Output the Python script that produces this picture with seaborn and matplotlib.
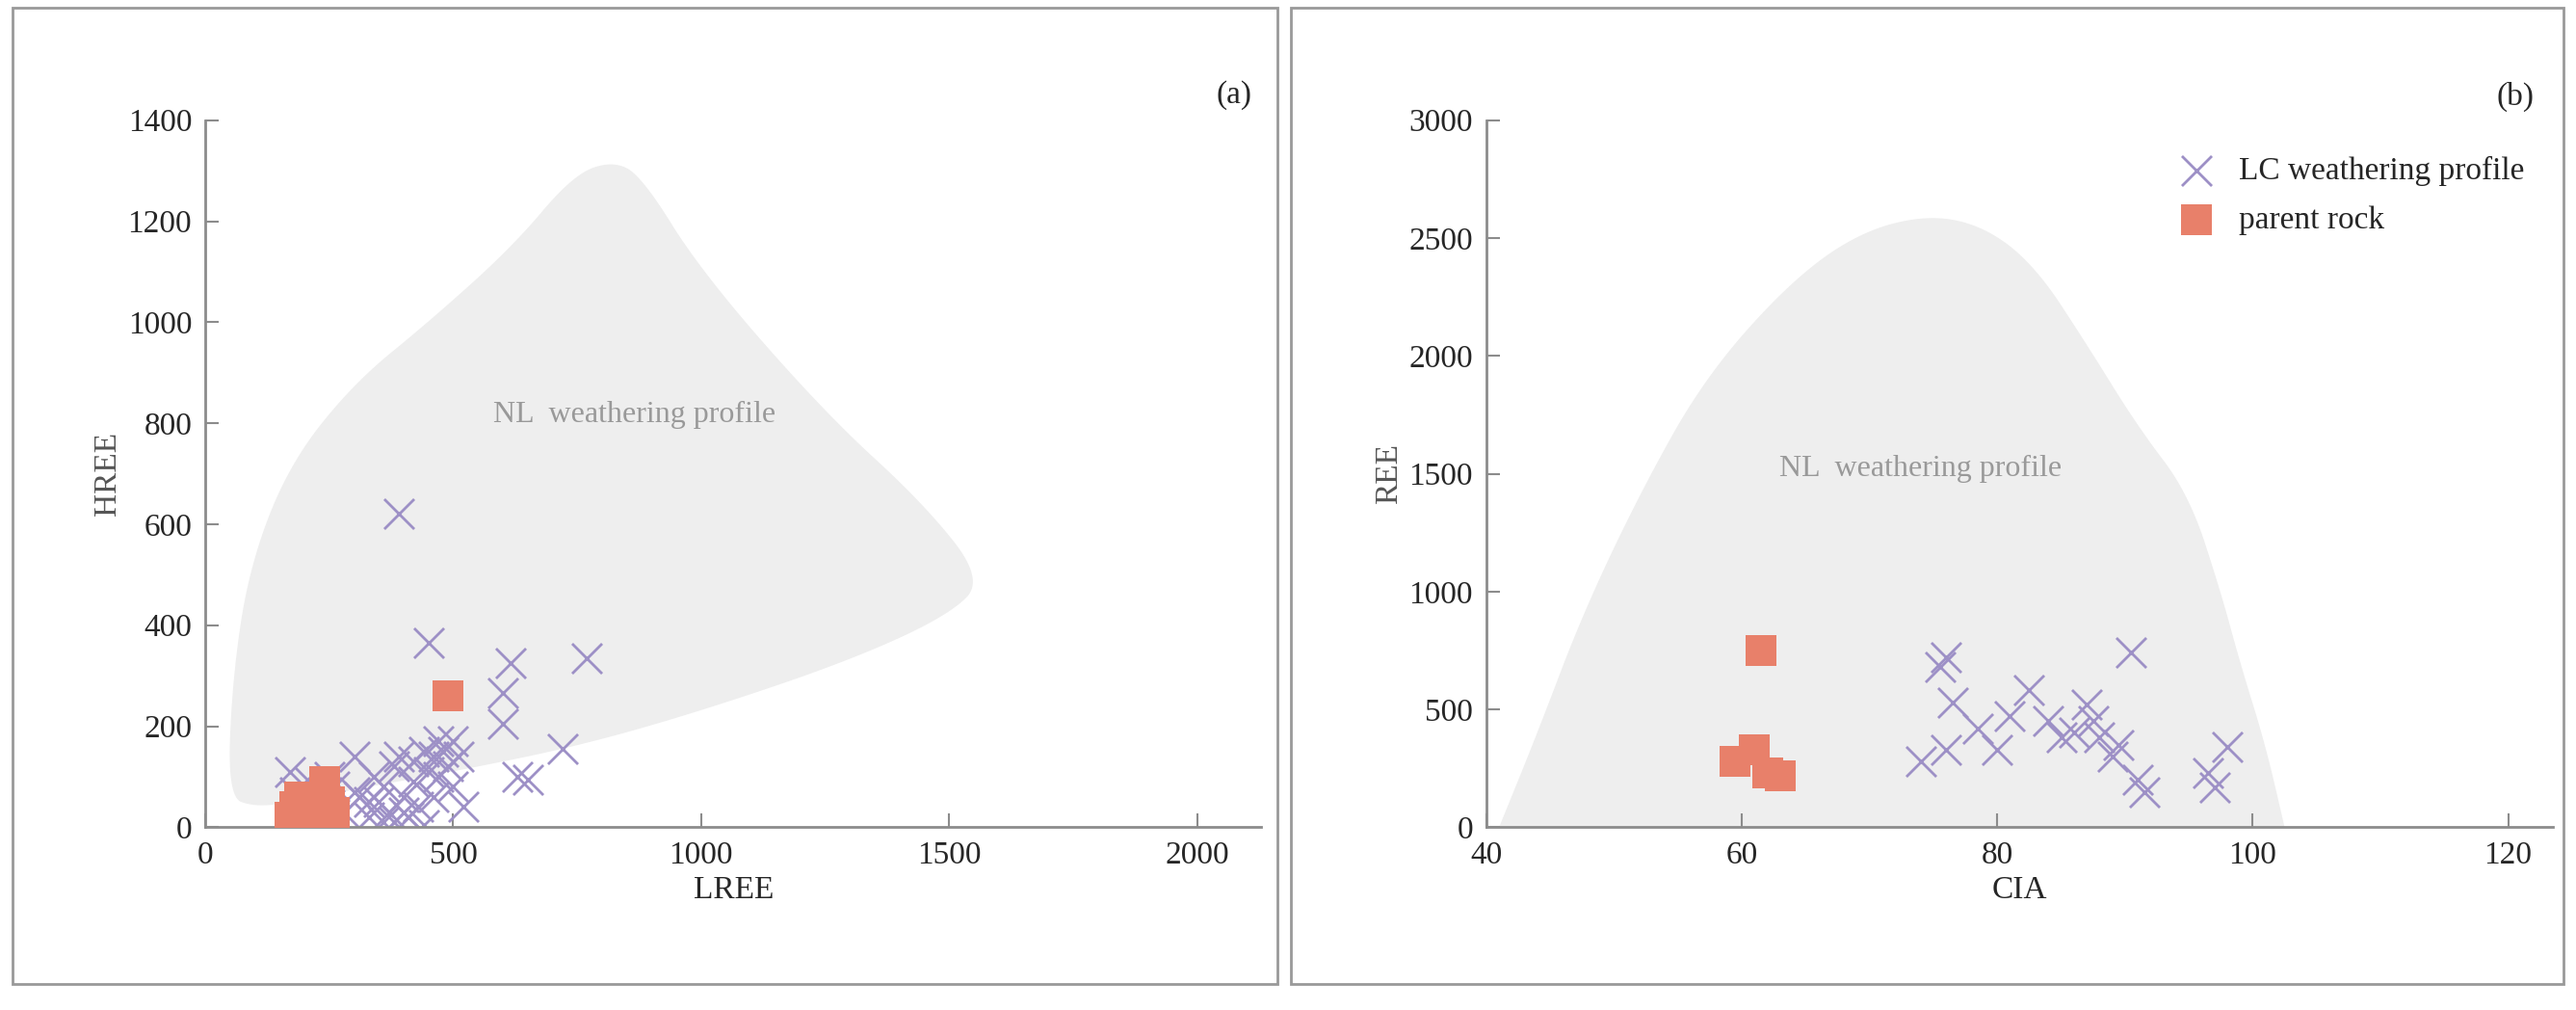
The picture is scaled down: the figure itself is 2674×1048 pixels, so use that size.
import numpy as np
import pandas as pd
import matplotlib.pyplot as plt
import seaborn as sns
from matplotlib.patches import Polygon, Rectangle

# panel (a): LREE vs HREE
a_lc_lree = [390, 450, 615, 770, 600, 600, 720, 630, 650, 170, 190, 210, 230, 250, 280, 300, 310, 330, 340,
             350, 360, 370, 380, 390, 400, 410, 420, 430, 440, 450, 460, 470, 480, 490, 500, 510, 520, 360,
             400, 440, 470, 300, 260, 200, 180, 420, 500, 330, 380, 460]
a_lc_hree = [620, 365, 325, 335, 265, 205, 155, 100, 95, 110, 60, 90, 40, 100, 30, 140, 60, 20, 100,
             50, 80, 30, 120, 140, 60, 20, 90, 40, 150, 110, 60, 170, 150, 120, 80, 140, 40, 10,
             30, 5, 100, 70, 80, 30, 70, 130, 170, 50, 10, 140]
a_pr_lree = [490, 170, 180, 200, 230, 240, 250, 260, 190, 220]
a_pr_hree = [260, 20, 40, 10, 60, 90, 50, 30, 60, 30]

# panel (b): CIA vs REE
b_lc_cia = [74, 75.5, 76, 76.5, 76, 78.5, 80, 81, 82.5, 84, 85, 86, 87, 87.5, 88, 89, 89.5, 90.5, 91, 91.5,
            96.5, 97, 98]
b_lc_ree = [280, 680, 720, 530, 330, 420, 330, 470, 580, 450, 380, 400, 520, 450, 380, 300, 350, 740, 200,
            150, 230, 170, 340]
b_pr_cia = [61.5, 59.5, 61, 62, 63]
b_pr_ree = [750, 280, 330, 230, 220]

# NL weathering profile fields (outline vertices)
nl_a_lree = [45, 55, 90, 170, 300, 450, 620, 740, 820, 880, 1000, 1250, 1450, 1570, 1500, 1300, 1000, 750,
             500, 300, 180, 100]
nl_a_hree = [60, 300, 520, 720, 880, 1000, 1150, 1290, 1320, 1290, 1100, 820, 640, 490, 420, 330, 230, 160,
             110, 75, 50, 40]
nl_b_cia = [41, 44, 47.5, 52, 57, 63.5, 69, 74.5, 79, 83, 87, 91, 95, 97.5, 99, 101, 102.5]
nl_b_ree = [0, 400, 900, 1415, 1900, 2300, 2520, 2600, 2550, 2380, 2050, 1700, 1415, 1000, 700, 350, 0]


def chaikin(pts, n, closed=True):
    # corner cutting to round the hand-drawn outline
    for _ in range(n):
        q = 0.75 * pts + 0.25 * np.roll(pts, -1, axis=0)
        r = 0.25 * pts + 0.75 * np.roll(pts, -1, axis=0)
        new = np.empty((2 * len(pts), 2))
        new[0::2], new[1::2] = q, r
        if not closed:
            new = np.vstack([pts[:1], new[:-2], pts[-1:]])
        pts = new
    return pts


sns.set_style('white')
plt.rcParams['font.family'] = ['Liberation Serif', 'DejaVu Serif']

cross_c = '#9d90c6'
sq_c = '#e8806a'
grey = '#8c8c8c'

fig = plt.figure(figsize=(26.74, 10.48), dpi=100)
ax1 = fig.add_axes([0.0797, 0.181, 0.41, 0.70])
ax2 = fig.add_axes([0.577, 0.181, 0.414, 0.70])

pa = chaikin(np.column_stack([nl_a_lree, nl_a_hree]).astype(float), 4)
ax1.add_patch(Polygon(pa, closed=True, facecolor='#eeeeee', edgecolor='none', zorder=0))
pb = chaikin(np.column_stack([nl_b_cia, nl_b_ree]).astype(float), 4, closed=False)
ax2.add_patch(Polygon(pb, closed=True, facecolor='#eeeeee', edgecolor='none', zorder=0))

lc = pd.DataFrame({'x': a_lc_lree, 'y': a_lc_hree})
pr = pd.DataFrame({'x': a_pr_lree, 'y': a_pr_hree})
sns.scatterplot(data=lc, x='x', y='y', ax=ax1, marker='x', s=500, color=cross_c, linewidth=2, zorder=2)
sns.scatterplot(data=pr, x='x', y='y', ax=ax1, marker='s', s=550, color=sq_c, linewidth=0, zorder=3)

lc = pd.DataFrame({'x': b_lc_cia, 'y': b_lc_ree})
pr = pd.DataFrame({'x': b_pr_cia, 'y': b_pr_ree})
sns.scatterplot(data=lc, x='x', y='y', ax=ax2, marker='x', s=500, color=cross_c, linewidth=2, zorder=2,
                label='LC weathering profile')
sns.scatterplot(data=pr, x='x', y='y', ax=ax2, marker='s', s=550, color=sq_c, linewidth=0, zorder=3,
                label='parent rock')

ax1.set_xlim(0, 2130)
ax1.set_ylim(0, 1400)
ax1.set_xticks([0, 500, 1000, 1500, 2000])
ax1.set_yticks(range(0, 1401, 200))
ax1.set_xlabel('LREE', fontsize=24)
ax1.set_ylabel('HREE', fontsize=24, color='#555555')
ax1.text(866, 817, 'NL  weathering profile', fontsize=23, color='#999999', ha='center', va='center')
ax1.text(2110, 1450, '(a)', fontsize=24, ha='right', va='center')

ax2.set_xlim(40, 123.5)
ax2.set_ylim(0, 3000)
ax2.set_xticks([40, 60, 80, 100, 120])
ax2.set_yticks(range(0, 3001, 500))
ax2.set_xlabel('CIA', fontsize=24)
ax2.set_ylabel('REE', fontsize=24, color='#555555')
ax2.text(74, 1520, 'NL  weathering profile', fontsize=23, color='#999999', ha='center', va='center')
ax2.text(122, 3100, '(b)', fontsize=24, ha='right', va='center')
ax2.legend(loc='upper right', bbox_to_anchor=(1.0, 0.99), frameon=False, fontsize=24,
           handletextpad=0.3, labelspacing=0.6)

for ax in (ax1, ax2):
    sns.despine(ax=ax)
    for s in ('left', 'bottom'):
        ax.spines[s].set_color(grey)
        ax.spines[s].set_linewidth(2)
    ax.tick_params(direction='in', length=10, width=1.5, color=grey, labelsize=24, pad=10,
                   left=True, bottom=True)

fig.add_artist(Rectangle((0.005, 0.026), 0.491, 0.966, transform=fig.transFigure, fill=False,
                         edgecolor='#999999', linewidth=2))
fig.add_artist(Rectangle((0.501, 0.026), 0.494, 0.966, transform=fig.transFigure, fill=False,
                         edgecolor='#999999', linewidth=2))

fig.savefig('out.png', dpi=100)
